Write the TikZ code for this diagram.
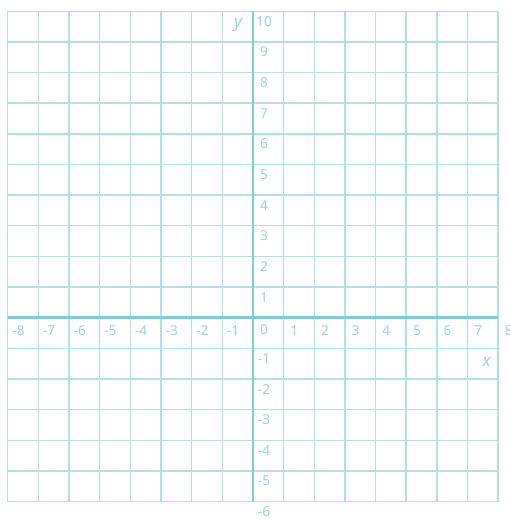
\documentclass[tikz,border=0pt]{standalone}
\usepackage{fontspec}
\setmainfont{Noto Sans}
\begin{document}
\begin{tikzpicture}[x=0.8288cm,y=0.8288cm,
  gridline/.style={draw=gridc,line width=1.1pt},
  axisline/.style={draw=axisc,line width=2.2pt},
  numlab/.style={text=labc,font=\fontsize{10.5}{12}\selectfont\bfseries,inner sep=0pt},
  axlab/.style={text=labc,font=\fontsize{13}{14}\itshape,inner sep=0pt}]
\definecolor{gridc}{RGB}{176,224,228}
\definecolor{axisc}{RGB}{128,204,210}
\definecolor{labc}{RGB}{150,212,218}
\useasboundingbox (-8.254,-6.568) rectangle (8.385,10.366);
\fill[white] (-8.254,-6.568) rectangle (8.385,10.366);
\foreach \i in {-8,...,8} \draw[gridline] (\i,-6) -- (\i,10);
\foreach \j in {-6,...,10} \draw[gridline] (-8,\j) -- (8,\j);
\draw[axisline] (-8,0) -- (8,0);
\draw[axisline] (0,-6) -- (0,10);
\foreach \i in {-8,...,-1,1,2,...,8} \node[numlab] (x\i) at (\i+0.35,-0.42) {\i};
\foreach \j in {-6,...,-1,1,2,...,10} \node[numlab] (y\j) at (0.36,\j-0.33) {\j};
\node[numlab] (o) at (0.36,-0.38) {0};
\node[axlab] (ylab) at (-0.49,9.55) {y};
\node[axlab] (xlab) at (7.63,-1.43) {x};
\end{tikzpicture}
\end{document}
